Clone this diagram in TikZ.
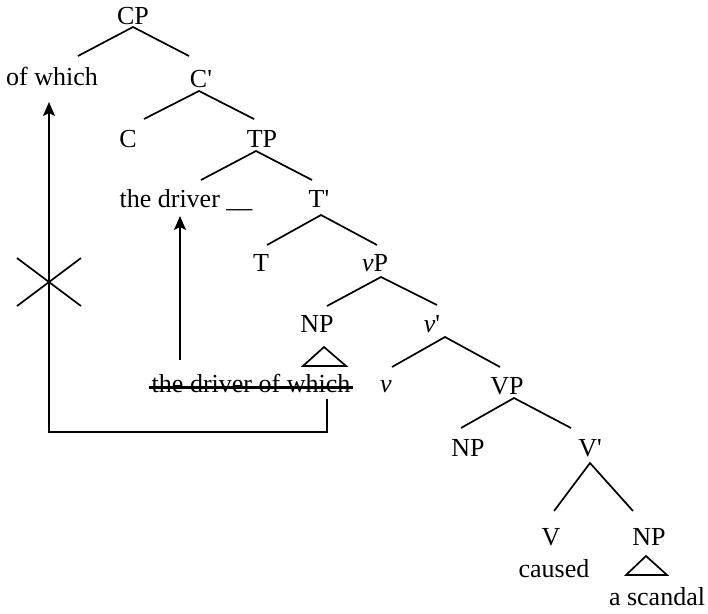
\documentclass[tikz,border=0pt]{standalone}
\usepackage{fontspec}
\setmainfont{Liberation Serif}
\usetikzlibrary{arrows.meta}
\begin{document}
\begin{tikzpicture}[x=1pt,y=-1pt,
  lbl/.style={inner sep=0pt,anchor=base,font=\fontsize{26}{30}\selectfont},
  br/.style={line width=1.7pt},
  mv/.style={line width=1.7pt,-{Stealth[length=14pt,width=12pt,inset=3pt]}}]
\useasboundingbox (0,0) rectangle (708,613);
% labels
\node[lbl] (CP) at (133,24) {CP};
\node[lbl] (ow) at (52,85) {of which};
\node[lbl] (C1) at (201,87) {C\textquotesingle};
\node[lbl] (C) at (128,147) {C};
\node[lbl] (TP) at (262,147) {TP};
\node[lbl] (td) at (186,207) {the driver \_\_};
\node[lbl] (T1) at (319,207) {T\textquotesingle};
\node[lbl] (T) at (261,271) {T};
\node[lbl] (vP) at (375,271) {\textit{v}P};
\node[lbl] (NP) at (317,332) {NP};
\node[lbl] (v1) at (432,332) {\textit{v}\textquotesingle};
\node[lbl] (dw) at (251,392) {the driver of which};
\node[lbl] (v) at (386,392) {\textit{v}};
\node[lbl] (VP) at (507,394) {VP};
\node[lbl] (NP2) at (468,456) {NP};
\node[lbl] (V1) at (590,456) {V\textquotesingle};
\node[lbl] (V) at (551,545) {V};
\node[lbl] (cs) at (554,577) {caused};
\node[lbl] (NP3) at (649,545) {NP};
\node[lbl] (sc) at (657,605) {a scandal};
% branches
\draw[br] (78,56) -- (133,27) -- (189,56);
\draw[br] (144,119) -- (199,91) -- (254,119);
\draw[br] (201,180) -- (256,151) -- (312,180);
\draw[br] (267,245) -- (321,215) -- (377,245);
\draw[br] (327,306) -- (381,277) -- (437,305);
\draw[br] (392,367) -- (445,337) -- (500,367);
\draw[br] (461,428) -- (514,398) -- (571,428);
\draw[br] (554,511) -- (590,463) -- (633,511);
% triangles
\draw[br] (324,347) -- (303,366) -- (346,366) -- cycle;
\draw[br] (646,556) -- (626,575) -- (667,575) -- cycle;
% strike-through
\draw[line width=3pt] (149,387) -- (353,387);
% movement arrows
\coordinate (a1) at (180,360);
\coordinate (a2) at (180,216);
\draw[mv] (a1) -- (a2);
\coordinate (b0) at (327,399);
\coordinate (b1) at (327,432);
\coordinate (b2) at (49,432);
\coordinate (b3) at (49,102);
\draw[mv] (b0) -- (b1) -- (b2) -- (b3);
% the cross
\coordinate (X) at (49,282);
\draw[br] (17,258) -- (81,306);
\draw[br] (17,306) -- (81,258);
\end{tikzpicture}
\end{document}
